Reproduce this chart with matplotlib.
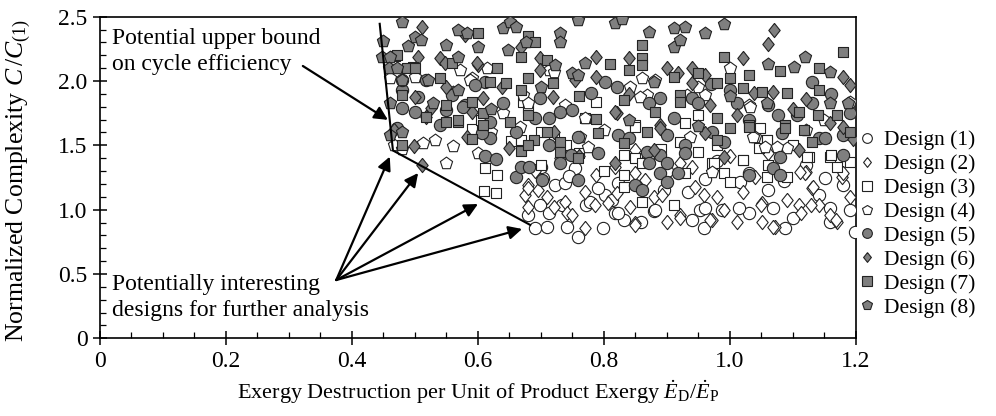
import matplotlib.pyplot as plt
from matplotlib.lines import Line2D

# Design points: (exergy destruction ratio, normalized complexity)
design1 = [(0.690, 0.855), (0.710, 0.868), (0.741, 0.868), (0.759, 0.785), (0.799, 0.855), (0.680, 0.959),
           (0.698, 1.037), (0.712, 0.972), (0.733, 1.037), (0.722, 1.192), (0.738, 1.205), (0.703, 1.244),
           (0.802, 1.114), (0.817, 0.972), (0.772, 1.037), (0.754, 1.322), (0.778, 1.062), (0.831, 0.920),
           (0.823, 0.972), (0.859, 0.907), (0.879, 0.990), (0.813, 1.075), (0.940, 0.920), (0.952, 0.998),
           (0.987, 0.998), (1.030, 0.974), (1.014, 1.013), (1.069, 1.013), (1.087, 0.858), (1.100, 0.935),
           (1.141, 1.114), (1.151, 1.246), (1.159, 1.013), (1.159, 0.905), (1.180, 1.192), (1.198, 0.827),
           (1.030, 1.285), (1.061, 1.153), (1.016, 1.215), (0.934, 1.137), (0.895, 1.153), (0.958, 0.858),
           (0.823, 1.207), (0.960, 1.011), (0.881, 0.998), (0.900, 1.300), (0.700, 1.330), (0.745, 1.260),
           (0.870, 1.400), (0.980, 1.380), (1.120, 1.350), (1.190, 1.000), (0.960, 1.240), (1.085, 1.220),
           (0.790, 1.170)]
design2 = [(0.818, 1.335), (0.821, 1.128), (0.842, 1.023), (0.850, 1.464), (0.850, 0.894), (0.865, 1.231),
           (0.879, 1.101), (0.892, 1.114), (0.900, 0.907), (0.921, 0.959), (0.940, 1.335), (0.945, 1.179),
           (0.958, 1.114), (0.971, 0.920), (0.979, 1.101), (0.990, 0.998), (1.011, 0.907), (1.020, 1.140),
           (1.040, 1.257), (1.051, 1.050), (1.051, 0.907), (1.072, 0.868), (1.090, 1.075), (1.109, 1.037),
           (1.112, 0.972), (1.120, 1.296), (1.130, 1.166), (1.141, 1.037), (1.159, 0.959), (1.170, 0.907),
           (1.178, 1.257), (1.191, 1.101), (0.680, 1.192), (0.675, 1.114), (0.680, 1.023), (0.696, 1.153),
           (0.709, 1.101), (0.720, 1.023), (0.738, 1.062), (0.741, 0.972), (0.749, 0.959), (0.770, 0.855),
           (0.786, 1.037), (0.788, 1.270), (0.807, 1.050), (0.770, 1.140), (0.849, 0.881), (0.921, 0.933),
           (0.968, 0.920), (1.050, 1.037), (1.069, 0.868), (1.119, 1.283), (1.132, 1.179), (1.169, 0.920),
           (1.129, 1.037), (0.680, 1.166), (0.849, 1.283), (0.921, 1.361), (1.111, 1.296), (1.180, 1.283),
           (0.730, 1.400), (1.000, 1.420), (1.060, 1.440), (0.690, 1.300)]
design3 = [(0.611, 1.322), (0.630, 1.270), (0.610, 1.148), (0.629, 1.128), (0.653, 1.534), (0.669, 1.542),
           (0.831, 1.426), (0.831, 1.270), (0.831, 1.179), (0.860, 1.062), (0.911, 1.037), (0.850, 1.400),
           (0.950, 1.451), (0.971, 1.361), (0.990, 1.283), (1.000, 1.218), (1.020, 1.386), (1.059, 1.542),
           (1.059, 1.257), (1.061, 1.348), (1.090, 1.257), (1.125, 1.412), (1.159, 1.412), (1.170, 1.335),
           (1.191, 1.373), (1.046, 1.477), (0.929, 1.283), (0.921, 1.529), (0.950, 1.736), (0.929, 1.672),
           (0.850, 1.658), (0.788, 1.840), (0.770, 1.711), (0.849, 1.645), (0.974, 1.361), (1.021, 1.386),
           (1.058, 1.542), (1.122, 1.412), (1.161, 1.426), (1.048, 1.633), (0.672, 1.840), (0.680, 1.790),
           (0.720, 1.560), (0.740, 1.500), (0.700, 1.350), (0.760, 1.440), (0.800, 1.300), (0.860, 1.360),
           (0.890, 1.470), (1.100, 1.500), (1.150, 1.560), (0.980, 1.500), (0.700, 1.600), (0.590, 1.630),
           (0.605, 1.700)]
design4 = [(0.550, 1.361), (0.561, 1.498), (0.531, 1.542), (0.513, 1.516), (0.467, 1.500), (0.460, 2.022),
           (0.500, 2.034), (0.571, 2.086), (0.590, 2.022), (0.614, 2.100), (0.672, 1.892), (0.680, 1.827),
           (0.738, 1.814), (0.770, 1.711), (0.561, 1.918), (0.640, 1.749), (0.712, 2.086), (1.000, 2.100),
           (0.842, 1.957), (0.860, 2.022), (0.881, 2.009), (0.950, 1.957), (0.961, 1.892), (0.868, 1.892),
           (1.030, 1.814), (1.191, 1.840), (1.040, 1.568), (1.090, 1.477), (0.971, 1.296), (0.937, 1.568),
           (0.587, 2.009), (0.720, 2.073), (0.857, 1.879), (0.931, 1.892), (1.032, 1.801), (1.037, 1.568),
           (1.056, 1.490), (1.074, 1.490), (0.775, 1.490), (0.762, 1.568), (0.667, 1.645), (1.150, 1.700),
           (1.120, 1.620), (0.800, 1.620), (0.620, 1.600), (0.480, 1.470), (0.600, 1.440)]
design5 = [(0.611, 1.420), (0.629, 1.392), (0.661, 1.257), (0.669, 1.335), (0.681, 1.335), (0.701, 1.231),
           (0.712, 1.503), (0.730, 1.361), (0.759, 1.231), (0.748, 1.426), (0.759, 1.568), (0.619, 1.555),
           (0.606, 1.594), (0.791, 1.439), (0.479, 1.931), (0.479, 1.788), (0.500, 1.762), (0.579, 1.814),
           (0.611, 1.995), (0.640, 1.827), (0.698, 1.866), (0.690, 1.711), (0.712, 1.711), (0.730, 1.762),
           (0.780, 1.905), (0.802, 1.995), (0.749, 1.775), (0.558, 1.892), (0.595, 1.970), (0.619, 1.684),
           (0.821, 1.957), (0.889, 1.866), (0.940, 1.866), (0.950, 1.827), (1.000, 1.931), (1.011, 1.827),
           (1.130, 1.995), (1.130, 1.827), (1.191, 1.749), (0.871, 1.827), (1.077, 1.736), (1.106, 1.736),
           (1.061, 1.814), (0.911, 1.711), (0.823, 1.581), (0.839, 1.555), (0.868, 1.451), (0.889, 1.426),
           (0.871, 1.361), (0.889, 1.283), (0.900, 1.361), (0.900, 1.218), (0.918, 1.283), (0.850, 1.192),
           (0.860, 1.153), (0.929, 1.503), (0.929, 1.439), (0.971, 1.607), (0.990, 1.529), (1.030, 1.270),
           (1.069, 1.322), (1.080, 1.412), (1.080, 1.270), (1.083, 1.594), (1.141, 1.555), (1.151, 1.555),
           (1.180, 1.581), (1.180, 1.426), (0.900, 1.581), (0.479, 2.009), (0.518, 2.009), (0.505, 1.879),
           (0.550, 1.775), (0.577, 1.801), (0.471, 1.633), (0.660, 1.600), (0.540, 1.660), (1.160, 1.900),
           (1.030, 1.700), (0.970, 1.980)]
design6 = [(0.511, 1.348), (0.499, 1.498), (0.511, 2.423), (0.579, 2.358), (0.505, 2.190), (0.540, 2.177),
           (0.600, 2.125), (0.669, 2.268), (0.698, 2.177), (0.698, 2.086), (0.788, 2.190), (0.788, 2.034),
           (0.500, 1.879), (0.608, 1.866), (0.590, 1.762), (0.719, 1.879), (0.638, 1.957), (0.820, 1.749),
           (0.754, 2.009), (0.550, 1.957), (0.526, 1.788), (1.070, 2.397), (1.060, 2.286), (1.020, 2.177),
           (0.839, 2.177), (0.900, 2.100), (0.918, 2.061), (0.940, 2.100), (0.961, 2.047), (0.940, 1.983),
           (1.180, 2.034), (1.191, 1.970), (1.069, 1.918), (1.038, 1.905), (0.969, 1.814), (1.011, 1.736),
           (0.818, 1.762), (0.889, 1.658), (1.159, 1.672), (1.180, 1.645), (0.818, 1.361), (0.879, 1.464),
           (0.961, 1.594), (0.990, 1.412), (1.109, 1.464), (0.889, 1.633), (0.598, 2.138), (0.548, 2.138),
           (0.518, 1.723), (0.582, 1.568), (0.466, 1.620), (0.720, 1.600), (0.760, 1.420), (0.650, 1.480),
           (0.840, 1.900), (1.100, 1.780), (1.120, 1.860), (1.195, 1.550)]
design7 = [(0.590, 1.550), (0.669, 1.459), (0.689, 1.542), (0.730, 1.529), (0.730, 1.451), (0.759, 1.400),
           (0.790, 1.594), (0.479, 1.503), (0.680, 1.503), (0.600, 2.372), (0.680, 2.353), (0.690, 2.307),
           (0.468, 2.198), (0.497, 2.112), (0.487, 2.100), (0.540, 2.022), (0.558, 2.138), (0.630, 2.100),
           (0.669, 2.190), (0.680, 2.022), (0.709, 2.164), (0.719, 1.983), (0.669, 1.931), (0.810, 2.131),
           (0.479, 1.892), (0.619, 1.995), (0.645, 1.983), (0.590, 1.840), (0.550, 1.814), (0.608, 1.749),
           (0.518, 1.723), (0.550, 1.684), (0.569, 1.684), (0.651, 1.684), (0.680, 1.736), (0.788, 1.705),
           (0.860, 2.281), (0.860, 2.177), (0.860, 2.125), (0.990, 2.190), (1.180, 2.224), (1.080, 2.079),
           (1.141, 2.100), (0.950, 2.061), (0.911, 2.034), (0.979, 1.983), (1.020, 1.949), (1.030, 2.047),
           (1.051, 1.918), (1.090, 1.905), (1.141, 1.931), (1.000, 2.022), (0.921, 1.892), (0.921, 1.840),
           (0.881, 1.762), (0.831, 1.853), (0.979, 1.711), (1.030, 1.658), (1.088, 1.658), (1.109, 1.762),
           (1.140, 1.736), (1.170, 1.736), (0.839, 2.086), (0.831, 1.516), (0.868, 1.607), (0.979, 1.542),
           (1.000, 1.633), (1.030, 1.645), (1.088, 1.633), (1.117, 1.620), (1.130, 1.529), (0.471, 2.203),
           (0.500, 2.100), (0.569, 1.697), (0.608, 1.658), (0.710, 1.600), (0.760, 1.880), (1.190, 1.600)]
design8 = [(0.460, 1.581), (0.479, 1.607), (0.479, 2.462), (0.450, 2.312), (0.447, 2.190), (0.460, 2.190),
           (0.489, 2.275), (0.500, 2.345), (0.510, 2.320), (0.569, 2.397), (0.582, 2.372), (0.550, 2.281),
           (0.569, 2.190), (0.600, 2.268), (0.640, 2.411), (0.651, 2.457), (0.661, 2.423), (0.677, 2.307),
           (0.730, 2.372), (0.730, 2.302), (0.759, 2.475), (0.770, 2.138), (0.817, 2.449), (0.458, 2.100),
           (0.471, 2.100), (0.479, 2.009), (0.460, 1.827), (0.521, 2.009), (0.529, 1.827), (0.648, 2.242),
           (0.722, 2.125), (0.749, 2.061), (0.759, 2.047), (0.569, 1.931), (0.829, 2.483), (0.871, 2.384),
           (0.911, 2.411), (0.929, 2.423), (0.960, 2.372), (0.990, 2.442), (0.911, 2.268), (0.921, 2.320),
           (1.060, 2.131), (1.101, 2.112), (1.119, 2.190), (1.159, 2.073), (0.879, 1.995), (1.188, 1.827),
           (1.159, 1.827), (1.059, 1.827), (0.620, 1.780), (0.840, 1.700), (0.950, 1.650), (0.700, 1.950),
           (1.000, 1.880)]

labels = ['Design (1)', 'Design (2)', 'Design (3)', 'Design (4)',
          'Design (5)', 'Design (6)', 'Design (7)', 'Design (8)']

# bound line and the arrows of the two notes
bound_x = [0.444, 0.465, 0.683]
bound_y = [2.445, 1.460, 0.881]
upper_note_from = (0.322, 2.117)
upper_note_to = (0.457, 1.698)
lower_note_from = (0.375, 0.453)
lower_note_to = [(0.460, 1.412), (0.505, 1.285), (0.600, 1.044), (0.670, 0.850)]

plt.rcParams['font.family'] = ['Liberation Serif', 'DejaVu Serif']
plt.rcParams['mathtext.fontset'] = 'custom'
plt.rcParams['mathtext.rm'] = 'Liberation Serif'
plt.rcParams['mathtext.it'] = 'Liberation Serif:italic'

diamond = [(0, 1), (0.8, 0), (0, -1), (-0.8, 0), (0, 1)]
styles = [('o', 'white', 78), (diamond, 'white', 105), ('s', 'white', 62), ('p', 'white', 85),
          ('o', '#7f7f7f', 78), (diamond, '#7f7f7f', 105), ('s', '#7f7f7f', 62), ('p', '#7f7f7f', 85)]
designs = [design1, design2, design3, design4, design5, design6, design7, design8]

fig = plt.figure(figsize=(9.96, 4.16), dpi=100)
ax = fig.add_axes([0.1004, 0.1868, 0.759, 0.773])

handles = []
for pts, (mk, fc, sz), lab in zip(designs, styles, labels):
    xs = [p[0] for p in pts]
    ys = [p[1] for p in pts]
    ax.scatter(xs, ys, marker=mk, s=sz, facecolor=fc, edgecolor='#222222', linewidths=0.8, zorder=3)
    handles.append(Line2D([], [], linestyle='none', marker=mk, markersize=7 if mk != 's' else 6.5,
                          markerfacecolor=fc, markeredgecolor='#222222', markeredgewidth=0.8, label=lab))

ax.plot(bound_x, bound_y, color='black', lw=1.5, zorder=4)

arrow = dict(arrowstyle='-|>', color='black', lw=1.6, mutation_scale=20, shrinkA=0, shrinkB=0)
ax.annotate('', xy=upper_note_to, xytext=upper_note_from, arrowprops=arrow, zorder=5)
for tgt in lower_note_to:
    ax.annotate('', xy=tgt, xytext=lower_note_from, arrowprops=arrow, zorder=5)

ax.text(0.019, 2.41, 'Potential upper bound\non cycle efficiency', fontsize=17,
        va='top', ha='left', linespacing=1.3)
ax.text(0.019, 0.50, 'Potentially interesting\ndesigns for further analysis', fontsize=17,
        va='top', ha='left', linespacing=1.3)

ax.set_xlim(0, 1.2)
ax.set_ylim(0, 2.5)
ax.set_xticks([0, 0.2, 0.4, 0.6, 0.8, 1.0, 1.2])
ax.set_xticklabels(['0', '0.2', '0.4', '0.6', '0.8', '1.0', '1.2'])
ax.set_yticks([0, 0.5, 1.0, 1.5, 2.0, 2.5])
ax.set_yticklabels(['0', '0.5', '1.0', '1.5', '2.0', '2.5'])
ax.set_xticks([i * 0.05 for i in range(25)], minor=True)
ax.set_yticks([i * 0.1 for i in range(26)], minor=True)
ax.tick_params(which='major', direction='inout', length=10, width=1.1, labelsize=17, pad=4)
ax.tick_params(which='minor', direction='in', length=4, width=0.9)
for sp in ax.spines.values():
    sp.set_linewidth(1.2)

ax.set_xlabel(r'Exergy Destruction per Unit of Product Exergy $\dot{E}_{\mathrm{D}}/\dot{E}_{\mathrm{P}}$', fontsize=16)
ax.set_ylabel(r'Normalized Complexity $C\,/C_{(1)}$', fontsize=18.5)
ax.xaxis.set_label_coords(0.5, -0.125)
ax.yaxis.set_label_coords(-0.088, 0.49)

ax.legend(handles=handles, loc='center left', bbox_to_anchor=(0.862, 0.4615), bbox_transform=fig.transFigure,
          frameon=False, fontsize=15.5, handlelength=0.8, handletextpad=0.4, labelspacing=0.18,
          borderpad=0, borderaxespad=0)

fig.savefig('out.png', dpi=100)
